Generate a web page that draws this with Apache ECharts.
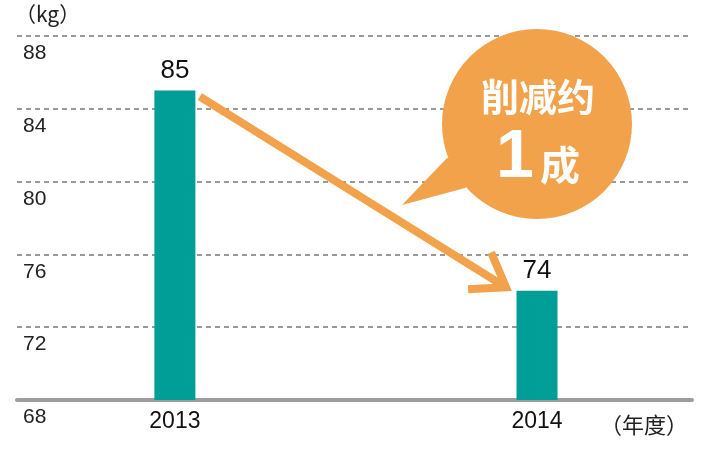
<!DOCTYPE html>
<html lang="zh">
<head>
    <meta charset="UTF-8">
    <title>削减约1成</title>
    <style>
        html, body {
            margin: 0;
            padding: 0;
            width: 100%;
            height: 100%;
            background: #fff;
            overflow: hidden;
        }
        #main {
            width: 702px;
            height: 452px;
        }
    </style>
</head>
<body>
    <div id="main"></div>

<script src="https://cdn.jsdelivr.net/npm/echarts@6/dist/echarts.min.js"></script>
<script type="text/javascript">

    // 数据
    var years = [2013, 2014];
    var values = [85, 74];
    var yTicks = [68, 72, 76, 80, 84, 88];

    var orange = '#f2a24b';
    var teal = '#009e96';
    var numFont = '"Liberation Sans", Arial, sans-serif';
    var cjkFont = '"Noto Sans CJK SC", "Noto Sans CJK JP", sans-serif';
    var barW = 41;

    var chart = echarts.init(document.getElementById('main'));

    var option = {
        animation: false,
        backgroundColor: '#fff',
        grid: {
            left: 17,
            right: 10,
            top: 36,
            bottom: 52
        },
        xAxis: {
            type: 'value',
            min: 2012.564,
            max: 2014.428,
            splitLine: { show: false },
            axisTick: { show: false },
            axisLine: {
                show: true,
                lineStyle: { color: '#9e9e9e', width: 4 }
            },
            axisLabel: {
                customValues: years,
                formatter: function (v) { return String(v); },
                margin: 10,
                fontSize: 23,
                color: '#111',
                fontFamily: numFont
            }
        },
        yAxis: {
            type: 'value',
            min: yTicks[0],
            max: yTicks[yTicks.length - 1],
            interval: 4,
            axisLine: { show: false },
            axisTick: { show: false },
            splitLine: {
                show: true,
                lineStyle: { color: '#999', width: 2, type: [5, 4] }
            },
            axisLabel: {
                inside: true,
                margin: 6,
                verticalAlign: 'top',
                padding: [7, 0, 0, 0],
                fontSize: 21,
                color: '#222',
                fontFamily: numFont
            }
        },
        series: [{
            type: 'bar',
            barWidth: barW,
            clip: true,
            itemStyle: { color: teal },
            label: {
                show: true,
                position: 'top',
                distance: 7,
                fontSize: 26,
                color: '#111',
                fontFamily: numFont
            },
            data: years.map(function (y, i) { return [y, values[i]]; })
        }]
    };
    chart.setOption(option);

    // 箭头位置根据柱子算
    var p1 = chart.convertToPixel({ gridIndex: 0 }, [years[0], values[0]]);
    var p2 = chart.convertToPixel({ gridIndex: 0 }, [years[1], values[1]]);
    var start = [p1[0] + 25, p1[1] + 6];
    var tip = [p2[0] - 31, p2[1] - 3.5];
    var ang = Math.atan2(tip[1] - start[1], tip[0] - start[0]);
    var armLen = 38, spread = 35 * Math.PI / 180;
    var armA = [tip[0] - armLen * Math.cos(ang - spread), tip[1] - armLen * Math.sin(ang - spread)];
    var armB = [tip[0] - armLen * Math.cos(ang + spread), tip[1] - armLen * Math.sin(ang + spread)];

    chart.setOption({
        graphic: [
            {
                type: 'text',
                left: 15,
                top: 4,
                style: { text: '（kg）', fontSize: 21, fill: '#222', fontFamily: cjkFont }
            },
            {
                type: 'text',
                x: 644,
                y: 425,
                style: {
                    text: '（年度）', fontSize: 22, fill: '#222', fontFamily: cjkFont,
                    align: 'center', verticalAlign: 'middle'
                }
            },
            {
                type: 'polyline',
                shape: { points: [start, tip] },
                style: { stroke: orange, lineWidth: 8, fill: null },
                z: 10
            },
            {
                type: 'polyline',
                shape: { points: [armA, tip, armB] },
                style: { stroke: orange, lineWidth: 8, fill: null, lineJoin: 'miter' },
                z: 10
            },
            // 气泡
            {
                type: 'circle',
                shape: { cx: 537, cy: 124, r: 95 },
                style: { fill: orange },
                z: 10
            },
            {
                type: 'polygon',
                shape: { points: [[447, 158], [402, 205], [465, 188], [500, 160]] },
                style: { fill: orange },
                z: 10
            },
            {
                type: 'text',
                x: 538,
                y: 97,
                z: 11,
                style: {
                    text: '削减约', fontSize: 38, fontWeight: 'bold', fill: '#fff',
                    fontFamily: cjkFont, align: 'center', verticalAlign: 'middle'
                }
            },
            {
                type: 'text',
                x: 515,
                y: 158,
                z: 11,
                style: {
                    text: '1', fontSize: 68, fontWeight: 'bold', fill: '#fff',
                    fontFamily: numFont, align: 'center', verticalAlign: 'middle'
                }
            },
            {
                type: 'text',
                x: 560,
                y: 165,
                z: 11,
                style: {
                    text: '成', fontSize: 40, fontWeight: 'bold', fill: '#fff',
                    fontFamily: cjkFont, align: 'center', verticalAlign: 'middle'
                }
            }
        ]
    });

</script>
</body>
</html>
